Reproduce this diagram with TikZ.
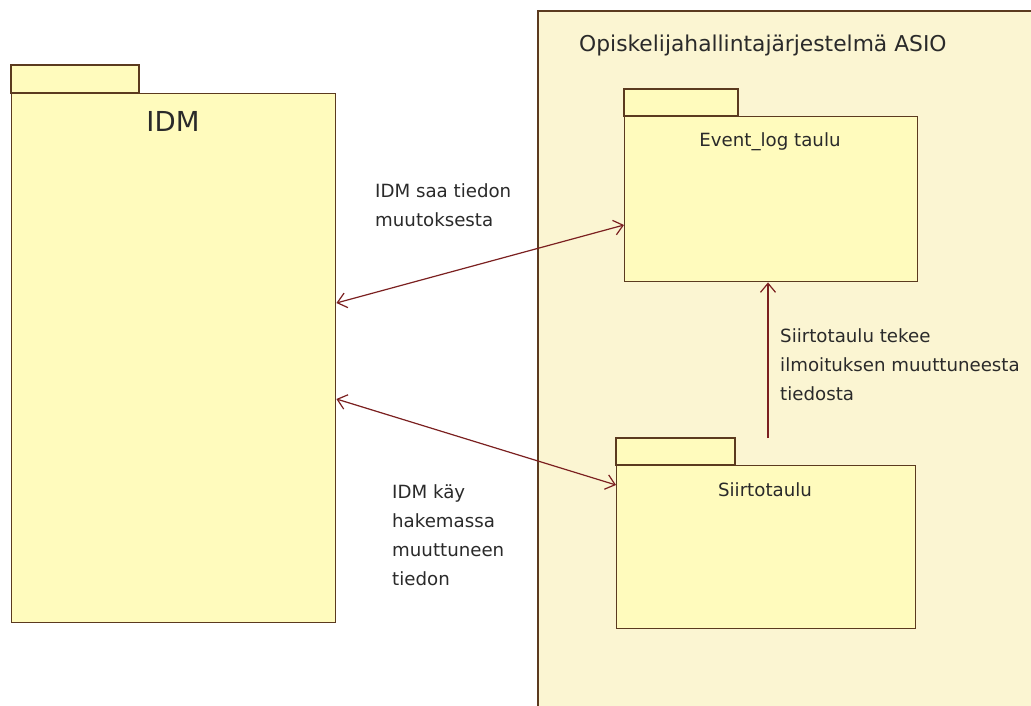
\documentclass[tikz,border=0pt]{standalone}
\usepackage{fontspec}
\setmainfont{DejaVu Sans}
\usetikzlibrary{arrows.meta,calc}
\definecolor{pkgfill}{HTML}{FFFBBD}
\definecolor{framefill}{HTML}{FBF5D2}
\definecolor{edge}{HTML}{5B3A1F}
\definecolor{link}{HTML}{7B2020}
\definecolor{ink}{HTML}{2A2A2A}
\tikzset{
  pkgbody/.style={draw=edge, fill=pkgfill, line width=1.4pt, inner sep=0pt, anchor=north west},
  pkgtab/.style={draw=edge, fill=pkgfill, line width=1.4pt},
  txt/.style={text=ink, inner sep=0pt, font=\fontsize{18.2}{29}\selectfont},
  lbl/.style={txt, align=left, anchor=north west},
  dep/.style={draw=link, line width=1.2pt, {Straight Barb[length=9pt,width=15pt]}-{Straight Barb[length=9pt,width=15pt]}},
  depone/.style={draw=link, line width=1.2pt, -{Straight Barb[length=9pt,width=15pt]}}
}
\begin{document}
\begin{tikzpicture}[x=1pt,y=-1pt]
  \useasboundingbox (0,0) rectangle (1031,706);
  \clip (0,0) rectangle (1031,706);
  \fill[white] (0,0) rectangle (1031,706);

  % system frame
  \draw[edge, fill=framefill, line width=1.4pt] (538,11) rectangle (1045,720);
  \node[txt, anchor=base west, font=\fontsize{21.8}{26}\selectfont] (asio) at (579,52) {Opiskelijahallintajärjestelmä ASIO};

  % IDM package
  \node[pkgbody, minimum width=324pt, minimum height=529pt] (idm) at (11,93) {};
  \draw[pkgtab] (idm.north west) rectangle ++(128,-28);
  \node[txt, anchor=base, font=\fontsize{27.5}{30}\selectfont] (idmname) at (173,132) {IDM};

  % Event_log package
  \node[pkgbody, minimum width=293pt, minimum height=165pt] (ev) at (624,116) {};
  \draw[pkgtab] (ev.north west) rectangle ++(114,-27);
  \node[txt, anchor=base] (evname) at (770,147) {Event\_log taulu};

  % Siirtotaulu package
  \node[pkgbody, minimum width=299pt, minimum height=163pt] (si) at (616,465) {};
  \draw[pkgtab] (si.north west) rectangle ++(119,-27);
  \node[txt, anchor=base] (siname) at (765,496) {Siirtotaulu};

  % connectors
  \coordinate (notify) at ($(si.north west)+(152,-27)$);
  \draw[dep] ($(idm.north east)+(0,210)$) -- ($(ev.north west)+(0,109)$);
  \draw[dep] ($(idm.north east)+(0,306)$) -- ($(si.north west)+(0,20)$);
  \draw[depone] (notify) -- (notify |- ev.south);

  % connector labels
  \node[lbl] (l1) at (375,183) {IDM saa tiedon\\muutoksesta};
  \node[lbl] (l2) at (392,484) {IDM käy\\hakemassa\\muuttuneen\\tiedon};
  \node[lbl] (l3) at (780,328) {Siirtotaulu tekee\\ilmoituksen muuttuneesta\\tiedosta};
\end{tikzpicture}
\end{document}
